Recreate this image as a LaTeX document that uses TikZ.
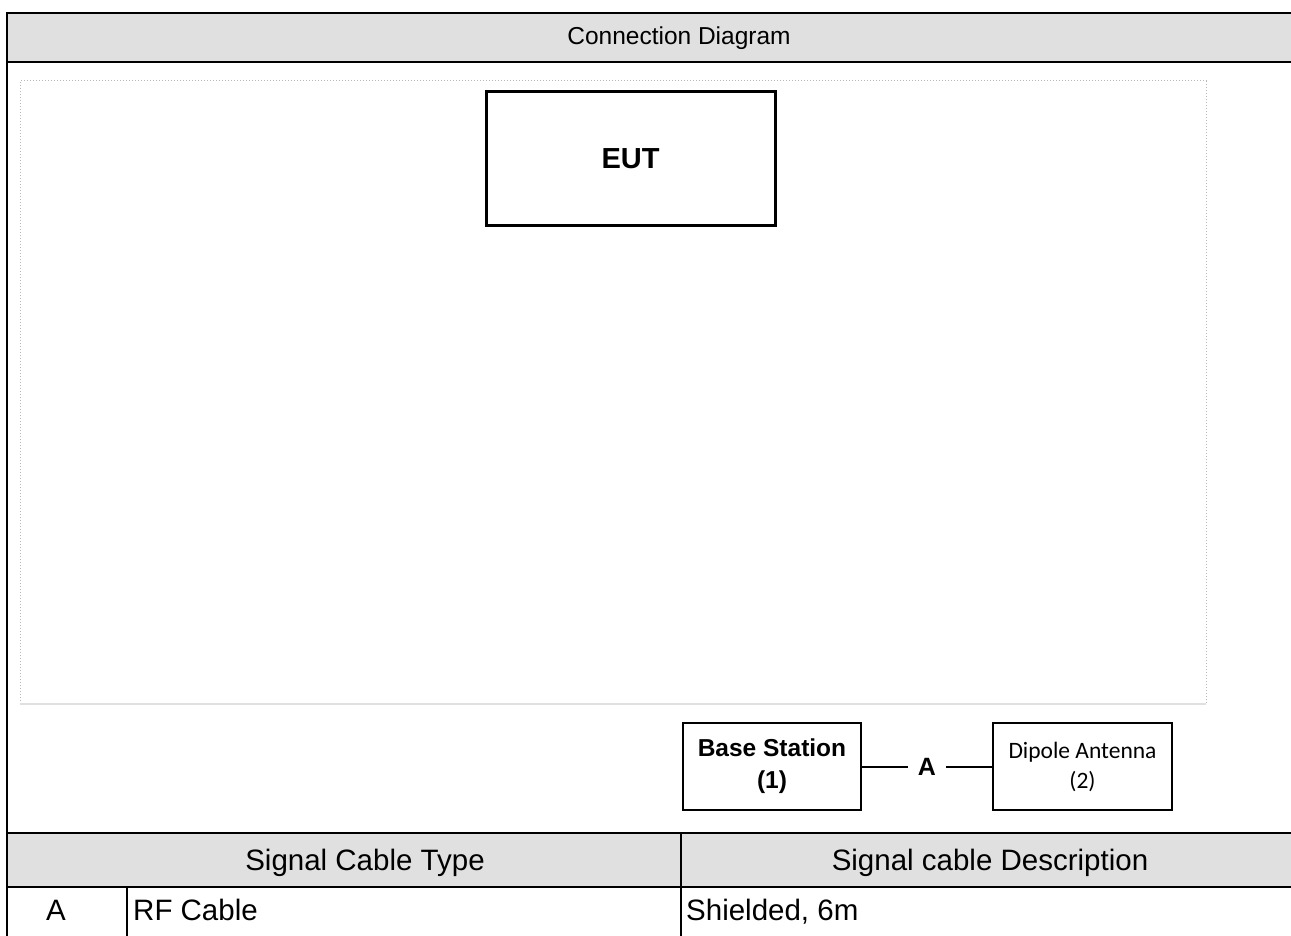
\documentclass[tikz,border=0pt]{standalone}
\usepackage{fontspec}
\setmainfont{Liberation Sans}
\newfontfamily\calfont{Carlito}
\definecolor{hdrgray}{HTML}{E0E0E0}
\definecolor{framegray}{HTML}{B8B8B8}
\begin{document}
\begin{tikzpicture}[x=1pt,y=-1pt]
\tikzstyle{dev}=[draw,shape=rectangle,line width=2.5pt,inner sep=0pt]
\tikzstyle{hdr}=[fill=hdrgray]
\tikzstyle{rule}=[line width=2pt]
\tikzstyle{cell}=[font=\fontsize{29.5}{34}\selectfont,inner sep=0pt,anchor=base]

\useasboundingbox (0,0) rectangle (1291,936);
\clip (0,0) rectangle (1291,936);
%
\fill[hdr] (7,13) rectangle (1300,62);
\fill[hdr] (7,833) rectangle (1300,887);
\draw[rule] (7,950) -- (7,13) -- (1300,13);
\draw[rule] (7,62) -- (1300,62);
\draw[rule] (7,833) -- (1300,833);
\draw[line width=1.5pt] (7,887) -- (1300,887);
\draw[line width=1.5pt] (681,833) -- (681,950);
\draw[line width=1.5pt] (127,887) -- (127,950);
%
\draw[framegray,dotted,line width=1pt] (20,704) -- (20,81) -- (1206,81) -- (1206,704);
\draw[black!12,line width=1.5pt] (20,704) -- (1206,704);
%
\node[font=\fontsize{24.5}{29}\selectfont](title) at (679,38){Connection Diagram};
%
\node[dev,line width=3pt,minimum width=289pt,minimum height=134pt](eut) at (630.5,159){\fontsize{29}{34}\selectfont\bfseries EUT};
\node[dev,minimum width=178pt,minimum height=87pt,align=center,font=\fontsize{24.5}{32}\selectfont\bfseries](bs) at (772,766.5){Base Station\\(1)};
\node[dev,minimum width=179pt,minimum height=87pt,align=center,font=\calfont\fontsize{23.5}{30}\selectfont](ant) at (1082.5,766.5){Dipole Antenna\\(2)};
%
\draw[line width=2pt] (bs) -- node[fill=white,inner xsep=10pt,font=\fontsize{25}{30}\selectfont\bfseries]{A} (ant);
%
\node[cell](typehdr) at (365,870){Signal Cable Type};
\node[cell](deschdr) at (990,870){Signal cable Description};
\node[cell](rowid) at (56,920){A};
\node[cell,anchor=base west](rowtype) at (133,920){RF Cable};
\node[cell,anchor=base west](rowdesc) at (686,920){Shielded, 6m};
\end{tikzpicture}
\end{document}
